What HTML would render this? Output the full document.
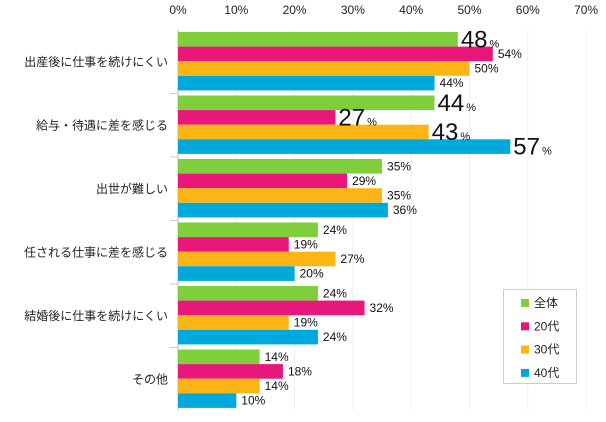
<!DOCTYPE html>
<html><head><meta charset="utf-8"><style>
body{margin:0;background:#fff;width:606px;height:417px;overflow:hidden}
svg{font-family:"Liberation Sans","Noto Sans CJK JP",sans-serif}
</style></head><body>
<svg id="c" width="606" height="417"></svg>
<script>
const categories=["出産後に仕事を続けにくい","給与・待遇に差を感じる","出世が難しい","任される仕事に差を感じる","結婚後に仕事を続けにくい","その他"];
const seriesNames=["全体","20代","30代","40代"];
const sAll=[48,44,35,24,24,14];
const s20=[54,27,29,19,32,18];
const s30=[50,43,35,27,19,14];
const s40=[44,57,36,20,24,10];
const big=[[true,false,false,false],[true,true,true,true],[false,false,false,false],[false,false,false,false],[false,false,false,false],[false,false,false,false]];
const ticks=[0,10,20,30,40,50,60,70];
const colors=["#7fcf3d","#e8177a","#fdb515","#00a9dc"];
const series=[sAll,s20,s30,s40];
const NS="http://www.w3.org/2000/svg";
const svg=document.getElementById('c');
const x0=178,pxPer=5.83,top0=30,band=63.5,barH=14.6;
const X=v=>x0+v*pxPer;
function el(t,a,p){const e=document.createElementNS(NS,t);for(const k in a)e.setAttribute(k,a[k]);(p||svg).appendChild(e);return e;}
ticks.forEach(t=>{
 const g=el('line',{x1:X(t),x2:X(t),y1:top0,y2:410,stroke:t?'#eee':'#bbb','stroke-width':1});
 
 
 const tx=el('text',{x:X(t),y:14,'text-anchor':'middle','font-size':12,fill:'#222'});tx.textContent=t+'%';
 
 
});
categories.forEach((c,i)=>{
 const y=top0+i*band;
 const l=el('text',{x:168,y:y+band/2+4,'text-anchor':'end','font-size':12,fill:'#222'});l.textContent=c;
 
 
 if(i>0){const s=el('line',{x1:170,x2:178,y1:y,y2:y,stroke:'#ccc'});}
 series.forEach((s,j)=>{
  const by=y+2+j*barH;
  const r=el('rect',{x:x0,y:by,width:X(s[i])-x0,height:barH,fill:colors[j]});
  
  
 });
});
categories.forEach((c,i)=>{
 const y=top0+i*band;
 series.forEach((s,j)=>{
  const by=y+2+j*barH;
  const b=big[i][j];
  const t=el('text',{x:X(s[i])+(b?3:5),y:by+barH/2+(b?8:4),'font-size':b?24:12,fill:'#111'});
  
  
  t.textContent=s[i];
  const p=el('tspan',{'font-size':b?11:12,dx:b?2:0},t);p.textContent='%';
 });
});
const lg=el('rect',{x:503.5,y:289.5,width:73,height:94,fill:'#fff',stroke:'#ccc'});


seriesNames.forEach((n,j)=>{
 const y=297+j*23.3;
 const r=el('rect',{x:521,y:y+2,width:8,height:8,fill:colors[j]});
 
 
 const t=el('text',{x:534,y:y+10,'font-size':12,fill:'#222'});t.textContent=n;
 
 
});
</script>
</body></html>
